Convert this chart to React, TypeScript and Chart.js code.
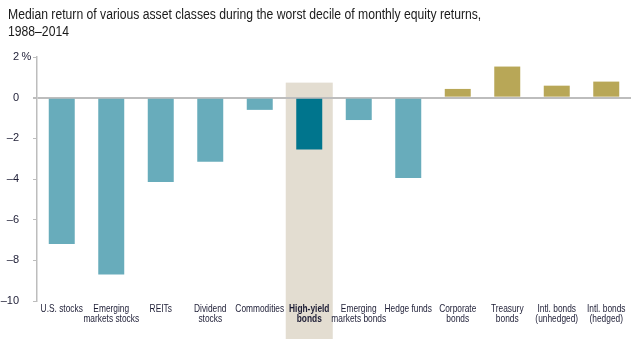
import React, { useEffect, useRef } from 'react';
import { Chart, registerables } from 'chart.js';
Chart.register(...registerables);

const titleLines = [
  'Median return of various asset classes during the worst decile of monthly equity returns,',
  '1988\u20132014',
];
const categories: string[][] = [
  ['U.S. stocks'],
  ['Emerging', 'markets stocks'],
  ['REITs'],
  ['Dividend', 'stocks'],
  ['Commodities'],
  ['High-yield', 'bonds'],
  ['Emerging', 'markets bonds'],
  ['Hedge funds'],
  ['Corporate', 'bonds'],
  ['Treasury', 'bonds'],
  ['Intl. bonds', '(unhedged)'],
  ['Intl. bonds', '(hedged)'],
];
const medianReturns = [-7.2, -8.7, -4.15, -3.15, -0.6, -2.55, -1.1, -3.95, 0.43, 1.53, 0.59, 0.79];
const yMin = -10;
const yMax = 2;
const yStep = 2;
const highlightIndex = 5;
const highlightTop = 0.74;

const FONT = "'Liberation Sans', Arial, sans-serif";
const SQUEEZE = 0.76;
const LIGHT_TEAL = '#68acbb';
const DARK_TEAL = '#00758d';
const GOLD = '#b8a757';
const AXIS_GRAY = '#bdbdbd';
const TEXT = '#1d1d35';

const highlightPlugin = {
  id: 'highlightBox',
  beforeDraw(chart: any) {
    const x = chart.scales.x;
    const y = chart.scales.y;
    const cx = x.getPixelForValue(highlightIndex);
    const half = (x.getPixelForValue(1) - x.getPixelForValue(0)) * 0.475;
    const top = y.getPixelForValue(highlightTop);
    const ctx = chart.ctx;
    ctx.save();
    ctx.fillStyle = '#e3ddd1';
    ctx.fillRect(cx - half, top, half * 2, chart.height - 7 - top);
    ctx.restore();
  },
};

const labelPlugin = {
  id: 'condensedLabels',
  afterDraw(chart: any) {
    const x = chart.scales.x;
    const y = chart.scales.y;
    const ctx = chart.ctx;
    ctx.save();
    ctx.fillStyle = TEXT;
    ctx.textAlign = 'center';
    ctx.textBaseline = 'alphabetic';
    categories.forEach((lines, i) => {
      const cx = x.getPixelForValue(i);
      ctx.font = `${i === highlightIndex ? 'bold ' : ''}11px ${FONT}`;
      lines.forEach((line, j) => {
        ctx.save();
        ctx.translate(cx, chart.chartArea.bottom + 11 + j * 10);
        ctx.scale(SQUEEZE, 1);
        ctx.fillText(line, 0, 0);
        ctx.restore();
      });
    });
    // percent sign beside the top y tick
    ctx.font = `11px ${FONT}`;
    ctx.textAlign = 'left';
    ctx.textBaseline = 'middle';
    ctx.fillText('%', 21.5, y.getPixelForValue(yMax));
    ctx.restore();
  },
};

export default function App() {
  const ref = useRef<HTMLCanvasElement>(null);
  useEffect(() => {
    document.body.style.margin = '0';
    const colors = medianReturns.map((v, i) =>
      i === highlightIndex ? DARK_TEAL : v >= 0 ? GOLD : LIGHT_TEAL
    );
    const chart = new Chart(ref.current!, {
      type: 'bar',
      data: {
        labels: categories,
        datasets: [
          {
            data: medianReturns,
            backgroundColor: colors,
            barPercentage: 0.525,
            categoryPercentage: 1,
          },
        ],
      },
      plugins: [highlightPlugin, labelPlugin],
      options: {
        animation: false,
        responsive: false,
        maintainAspectRatio: false,
        layout: { padding: { top: 57, right: 6, left: 0, bottom: 0 } },
        plugins: { legend: { display: false }, tooltip: { enabled: false }, title: { display: false } },
        scales: {
          x: {
            grid: { display: false },
            border: { display: false },
            ticks: { display: false },
            afterFit: (s: any) => {
              s.height = 45;
            },
          },
          y: {
            min: yMin,
            max: yMax,
            ticks: {
              stepSize: yStep,
              padding: 14,
              color: TEXT,
              font: { family: FONT, size: 11 },
              callback: (v: any) => (v === 0 ? '0' : v < 0 ? '\u2013' + Math.abs(v) : String(v)),
            },
            grid: {
              color: (ctx: any) => (ctx.tick && ctx.tick.value === 0 ? AXIS_GRAY : 'rgba(0,0,0,0)'),
              lineWidth: (ctx: any) => (ctx.tick && ctx.tick.value === 0 ? 2 : 1),
              tickColor: AXIS_GRAY,
              tickLength: 4,
            },
            border: { display: true, color: AXIS_GRAY, width: 1.5 },
            afterFit: (s: any) => {
              s.width = 37;
            },
          },
        },
      },
    });
    return () => chart.destroy();
  }, []);
  return (
    <div style={{ position: 'relative', width: 637, height: 346, background: '#fff' }}>
      <canvas ref={ref} width={637} height={346} style={{ position: 'absolute', left: 0, top: 0 }} />
      <div
        style={{
          position: 'absolute',
          left: 8,
          top: 6,
          fontFamily: FONT,
          fontSize: 14,
          lineHeight: '17px',
          color: '#1a1a1a',
          whiteSpace: 'nowrap',
          transform: 'scaleX(0.87)',
          transformOrigin: '0 0',
        }}
      >
        {titleLines.map((l, i) => (
          <div key={i}>{l}</div>
        ))}
      </div>
    </div>
  );
}
